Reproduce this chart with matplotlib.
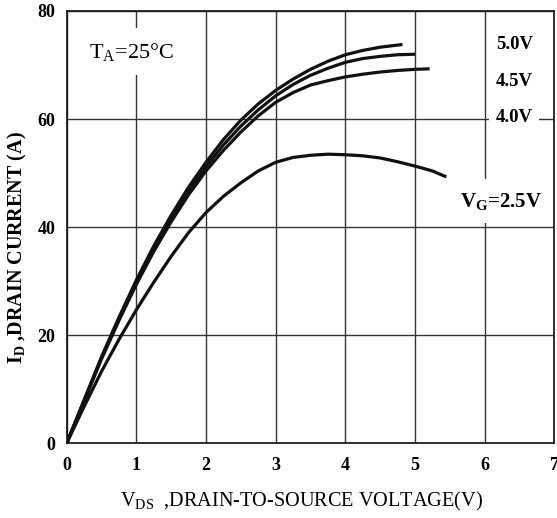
import matplotlib
matplotlib.use("Agg")
import matplotlib.pyplot as plt

plt.rcParams['font.family'] = ['Liberation Serif', 'DejaVu Serif']
plt.rcParams['mathtext.fontset'] = 'custom'
plt.rcParams['mathtext.rm'] = 'Liberation Serif'
plt.rcParams['mathtext.it'] = 'Liberation Serif:italic'
plt.rcParams['mathtext.bf'] = 'Liberation Serif:bold'

# Output characteristics, I_D vs V_DS for several gate voltages
x_hi = [0, 0.25, 0.5, 0.75, 1.0, 1.25, 1.5, 1.75, 2.0, 2.25, 2.5, 2.75,
        3.0, 3.25, 3.5, 3.75, 4.0, 4.25, 4.5, 4.82]
id_5v0 = [0, 8.0, 16.0, 23.3, 30.2, 36.5, 42.2, 47.4, 52.0, 56.2, 59.8, 62.8,
          65.3, 67.4, 69.2, 70.7, 71.9, 72.7, 73.3, 73.8]

x_4v5 = [0, 0.25, 0.5, 0.75, 1.0, 1.25, 1.5, 1.75, 2.0, 2.25, 2.5, 2.75,
         3.0, 3.25, 3.5, 3.75, 4.0, 4.25, 4.5, 4.75, 5.0]
id_4v5 = [0, 7.9, 15.8, 23.0, 29.8, 36.0, 41.6, 46.7, 51.2, 55.2, 58.7, 61.7,
          64.3, 66.4, 68.1, 69.4, 70.5, 71.2, 71.6, 71.9, 72.0]

x_4v0 = [0, 0.25, 0.5, 0.75, 1.0, 1.25, 1.5, 1.75, 2.0, 2.25, 2.5, 2.75,
         3.0, 3.25, 3.5, 3.75, 4.0, 4.25, 4.5, 4.75, 5.0, 5.21]
id_4v0 = [0, 7.8, 15.6, 22.7, 29.4, 35.5, 41.0, 46.0, 50.4, 54.2, 57.6, 60.6,
          63.1, 64.9, 66.3, 67.1, 67.8, 68.3, 68.7, 69.0, 69.2, 69.3]

x_2v5 = [0, 0.25, 0.5, 0.75, 1.0, 1.25, 1.5, 1.75, 2.0, 2.25, 2.5, 2.75,
         3.0, 3.25, 3.5, 3.75, 4.0, 4.25, 4.5, 4.75, 5.0, 5.25, 5.45]
id_2v5 = [0, 6.8, 13.3, 19.2, 24.7, 29.8, 34.6, 39.0, 42.7, 45.7, 48.2, 50.4,
          52.0, 52.9, 53.3, 53.5, 53.4, 53.2, 52.8, 52.1, 51.3, 50.4, 49.3]

curves = [(x_hi, id_5v0), (x_4v5, id_4v5), (x_4v0, id_4v0), (x_2v5, id_2v5)]

x_ticks = [0, 1, 2, 3, 4, 5, 6, 7]
y_ticks = [0, 20, 40, 60, 80]

fig = plt.figure(figsize=(5.57, 5.18), dpi=100)
ax = fig.add_axes([0.1197, 0.1442, 0.8755, 0.8346])

for xs, ys in curves:
    ax.plot(xs, ys, color='#111111', lw=2.3, solid_capstyle='butt', zorder=3)

ax.set_xlim(0, 7)
ax.set_ylim(0, 80)
ax.set_xticks(x_ticks)
ax.set_yticks(y_ticks)
ax.grid(True, color='#333333', lw=1.0, zorder=1)
ax.set_axisbelow(True)
ax.tick_params(length=0, labelsize=13)
ax.tick_params(axis='x', pad=10)
ax.tick_params(axis='y', pad=8)
for lab in ax.get_xticklabels() + ax.get_yticklabels():
    lab.set_fontweight('bold')
for sp in ax.spines.values():
    sp.set_color('#111111')
    sp.set_linewidth(1.2)

def box(pad):
    return dict(boxstyle='square,pad=%s' % pad, fc='white', ec='none')

ax.text(0.93, 72.5, r'T$_{\rm A}$=25°C', fontsize=16, ha='center', va='center',
        bbox=box(0.55), zorder=2)
ax.text(6.16, 73.8, '5.0V', fontsize=13.5, fontweight='bold', ha='left',
        va='center', zorder=2)
ax.text(6.16, 67.0, '4.5V', fontsize=13.5, fontweight='bold', ha='left',
        va='center', zorder=2)
ax.text(6.16, 60.3, '4.0V', fontsize=13.5, fontweight='bold', ha='left',
        va='center', bbox=box(0.35), zorder=2)
ax.text(6.23, 44.8, r'V$_{\bf G}$=2.5V', fontsize=15, fontweight='bold',
        ha='center', va='center', bbox=box(0.55), zorder=2)

ax.set_xlabel(r'V$_{\rm DS}$  ,DRAIN-TO-SOURCE VOLTAGE(V)', fontsize=14.6)
ax.xaxis.set_label_coords(0.482, -0.108)
ax.set_ylabel(r'I$_{\bf D}$ ,DRAIN CURRENT (A)', fontsize=14.5, fontweight='bold')
ax.yaxis.set_label_coords(-0.077, 0.453)

fig.savefig('out.png', dpi=100)
